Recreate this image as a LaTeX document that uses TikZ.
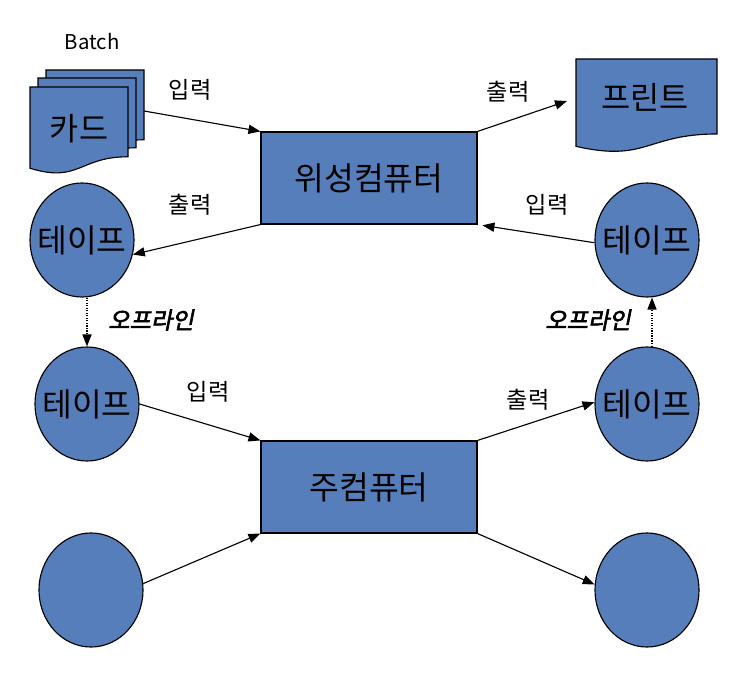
\documentclass[tikz,border=0pt]{standalone}
\usepackage{fontspec}
\setmainfont{Noto Sans CJK KR}
\newfontfamily\offlinefont{Noto Sans CJK KR}[FakeSlant=0.2,FakeBold=2.5]
\usepackage{tikz}
\usetikzlibrary{arrows.meta}
\usetikzlibrary{shapes.geometric,calc}
\definecolor{unitblue}{RGB}{86,126,186}
% document sheet with a wavy lower edge: x, y (top left), width, height
\newcommand\docsheet[4]{%
  \draw[sheet] (#1,#2) -- ({#1+#3},#2) -- ({#1+#3},{#2+0.802*#4})
    .. controls ({#1+0.5*#3},{#2+0.802*#4}) and ({#1+0.5*#3},{#2+1.1075*#4})
    .. (#1,{#2+0.934*#4}) -- cycle;}

\begin{document}
\begin{tikzpicture}[x=0.025cm,y=-0.025cm,
    sheet/.style={fill=unitblue,draw=black,line width=0.8pt},
    cpu/.style={rectangle,fill=unitblue,draw=black,line width=0.8pt,
      minimum width=5.4cm,minimum height=2.3cm,font=\fontsize{23}{27}\selectfont},
    tape/.style={ellipse,fill=unitblue,draw=black,line width=0.8pt,inner sep=0pt,
      minimum width=2.6cm,minimum height=2.85cm,
      label={[font=\fontsize{23}{27}\selectfont]center:#1}},
    tape/.default={},
    flow/.style={-{Triangle[length=8.5pt,width=6.5pt]},line width=0.8pt},
    offpath/.style={densely dotted,-{Triangle[length=8.5pt,width=6.5pt]},line width=0.8pt},
    lbl/.style={font=\fontsize{16.5}{19}\selectfont},
    offlbl/.style={font=\offlinefont\fontsize{16.5}{19}\selectfont},
    big/.style={font=\fontsize{22.5}{26}\selectfont}]
    \useasboundingbox (0,0) rectangle (736,688);

    % batch cards and printout
    \node[font=\fontsize{14.5}{17}\selectfont] (batch) at (92,42) {Batch};
    \docsheet{46}{70}{98}{87}
    \docsheet{38}{78}{98}{87}
    \docsheet{30}{87}{98}{87}
    \node[big] (card) at (79,129) {카드};
    \coordinate (cardR) at (144,111);
    \docsheet{576}{59}{141}{93.5}
    \node[big] (print) at (645,97) {프린트};
    \coordinate (prnL) at (567,101);

    % computers
    \node[cpu] (sat) at (369,178) {위성컴퓨터};
    \node[cpu] (main) at (369,487) {주컴퓨터};

    % tapes
    \node[tape=테이프] (tapeA) at (82,240) {};
    \node[tape=테이프] (tapeB) at (647,240) {};
    \node[tape=테이프] (tapeC) at (87,404) {};
    \node[tape=테이프] (tapeD) at (647,404) {};
    \node[tape] (diskL) at (91,590) {};
    \node[tape] (diskR) at (647,590) {};

    % connectors
    \draw[flow] (cardR) -- (sat.north west);
    \draw[flow] (sat.north east) -- (prnL);
    \draw[flow] (sat.south west) -- (tapeA.-16);
    \draw[flow,shorten >=3.5pt] (tapeB.183) -- (sat.south east);
    \draw[offpath] (tapeA.south -| tapeC.north) -- (tapeC.north);
    \draw[flow] (tapeC.east) -- (main.north west);
    \draw[flow] (main.north east) -- (tapeD.178);
    \draw[offpath] (tapeD.85) -- (tapeD.85 |- tapeB.south);
    \draw[flow] (diskL.7) -- (main.south west);
    \draw[flow] (main.south east) -- (diskR.174);

    % labels
    \node[lbl] (inA) at (190,90) {입력};
    \node[lbl] (outA) at (508,92) {출력};
    \node[lbl] (outB) at (190,205) {출력};
    \node[lbl] (inB) at (547,205) {입력};
    \node[offlbl] (offA) at (151,320) {오프라인};
    \node[offlbl] (offB) at (588,320) {오프라인};
    \node[lbl] (inC) at (208,392) {입력};
    \node[lbl] (outC) at (528,400) {출력};
\end{tikzpicture}
\end{document}
